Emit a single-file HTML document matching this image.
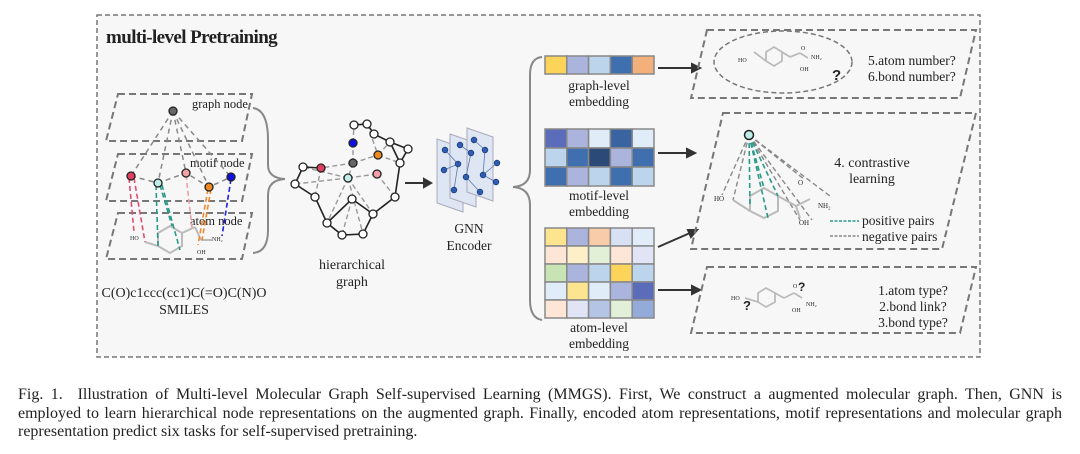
<!DOCTYPE html>
<html><head><meta charset="utf-8">
<style>
html,body{margin:0;padding:0;background:#fff;}
body{position:relative;width:1080px;height:454px;overflow:hidden;}
svg{display:block;position:absolute;left:0;top:0;}
text{font-family:"Liberation Serif",serif;fill:#222;}
.cap{position:absolute;left:18px;top:386px;width:1044px;font-family:"Liberation Serif",serif;font-size:16px;line-height:18.5px;color:#222;}
.cap div{text-align:justify;text-align-last:justify;white-space:nowrap;}
.cap div.l{text-align-last:left;}
</style></head><body>
<svg width="1080" height="454" viewBox="0 0 1080 454" xmlns="http://www.w3.org/2000/svg">
<rect x="97" y="15" width="883" height="342" fill="#f7f7f7" stroke="#777" stroke-width="1.5" stroke-dasharray="5,3"/>
<text x="106" y="43" font-size="19" font-weight="bold" letter-spacing="-0.6">multi-level Pretraining</text>

<g fill="none" stroke="#777" stroke-width="2" stroke-dasharray="7,4">
<polygon points="118,94 252,94 242,141 106,141"/>
<polygon points="118,154 252,154 242,201 106,201"/>
<polygon points="118,213 252,213 242,259 106,259"/>
</g>
<text x="192" y="108" font-size="12.5">graph node</text>
<text x="190" y="167" font-size="12.5">motif node</text>
<text x="190" y="225" font-size="12.5">atom node</text>
<g stroke="#888" stroke-width="1.5" stroke-dasharray="5,4" fill="none">
<line x1="173" y1="111" x2="131" y2="176"/><line x1="173" y1="111" x2="158" y2="183"/>
<line x1="173" y1="111" x2="186" y2="173"/><line x1="173" y1="111" x2="209" y2="187"/>
<line x1="173" y1="111" x2="231" y2="177"/>
<polyline points="131,176 158,183 186,173 209,187 231,177"/>
</g>
<g stroke="#bbb" stroke-width="2" fill="none">
<polygon points="158,233 170,226 182,233 182,246 170,253 158,246"/>
<line x1="145" y1="242" x2="158" y2="246"/><line x1="182" y1="233" x2="195" y2="227"/>
<line x1="195" y1="227" x2="201" y2="240"/><line x1="201" y1="240" x2="212" y2="240"/>
</g>
<text x="130" y="240" font-size="6" fill="#e07070">HO</text>
<text x="197" y="254" font-size="6" fill="#e07070">OH</text>
<text x="212" y="241" font-size="6" fill="#5050e0">NH₂</text>
<g stroke-width="1.6" stroke-dasharray="5,3" fill="none">
<g stroke="#e05070"><line x1="129" y1="178" x2="134" y2="232"/><line x1="134" y1="178" x2="145" y2="242"/></g>
<g stroke="#2a9a88"><line x1="156" y1="185" x2="158" y2="246"/><line x1="160" y1="185" x2="172" y2="226"/><line x1="162" y1="185" x2="180" y2="250"/></g>
<g stroke="#f0a0a8"><line x1="186" y1="175" x2="192" y2="228"/></g>
<g stroke="#f08a30"><line x1="208" y1="189" x2="198" y2="245"/><line x1="211" y1="189" x2="202" y2="240"/></g>
<g stroke="#2020e0"><line x1="231" y1="179" x2="222" y2="236"/></g>
</g>
<g stroke="#222" stroke-width="1.3">
<circle cx="173" cy="111" r="4" fill="#666"/>
<circle cx="131" cy="176" r="4" fill="#e04060"/>
<circle cx="158" cy="183" r="4" fill="#bfeeea"/>
<circle cx="186" cy="173" r="4" fill="#f4a0a8"/>
<circle cx="209" cy="187" r="4" fill="#f08a20"/>
<circle cx="231" cy="177" r="4" fill="#1010e0"/>
</g>
<path d="M253,108 Q268,110 268,140 L268,165 Q268,178 285,179 Q268,180 268,195 L268,230 Q268,252 253,253" fill="none" stroke="#888" stroke-width="2"/>
<text x="184" y="297" font-size="14" text-anchor="middle">C(O)c1ccc(cc1)C(=O)C(N)O</text>
<text x="184" y="314" font-size="14" text-anchor="middle">SMILES</text>

<g stroke="#999" stroke-width="1.4" stroke-dasharray="5,3" fill="none">
<line x1="353" y1="163" x2="321" y2="168"/><line x1="353" y1="163" x2="378" y2="155"/>
<line x1="353" y1="163" x2="353" y2="143"/><line x1="353" y1="163" x2="348" y2="178"/>
<line x1="353" y1="143" x2="354" y2="125"/><line x1="378" y1="155" x2="390" y2="142"/>
<line x1="378" y1="155" x2="400" y2="163"/><line x1="348" y1="178" x2="377" y2="174"/>
<line x1="348" y1="178" x2="303" y2="167"/><line x1="348" y1="178" x2="295" y2="184"/>
<line x1="348" y1="178" x2="327" y2="223"/><line x1="348" y1="178" x2="363" y2="234"/>
<line x1="348" y1="178" x2="373" y2="214"/><line x1="377" y1="174" x2="395" y2="197"/>
<line x1="321" y1="168" x2="315" y2="197"/><line x1="352" y1="199" x2="342" y2="235"/>
<line x1="367" y1="124" x2="378" y2="155"/>
</g>
<g stroke="#222" stroke-width="1.6" fill="none">
<polyline points="354,125 367,124 374,134 390,142 400,163 395,197 373,214 363,234 342,235 327,223 315,197 295,184 303,167 321,168"/>
<polyline points="390,142 408,149 400,163"/>
<polyline points="327,223 352,199 373,214"/>
</g>
<g stroke="#222" stroke-width="1.3" fill="#fff">
<circle cx="354" cy="125" r="4"/><circle cx="367" cy="124" r="4"/><circle cx="374" cy="134" r="4"/>
<circle cx="390" cy="142" r="4"/><circle cx="408" cy="149" r="4"/><circle cx="400" cy="163" r="4"/>
<circle cx="303" cy="167" r="4"/><circle cx="295" cy="184" r="4"/><circle cx="315" cy="197" r="4"/>
<circle cx="395" cy="197" r="4"/><circle cx="373" cy="214" r="4"/><circle cx="363" cy="234" r="4"/>
<circle cx="342" cy="235" r="4"/><circle cx="327" cy="223" r="4"/><circle cx="352" cy="199" r="4"/>
<circle cx="353" cy="143" r="4" fill="#1010e0"/><circle cx="378" cy="155" r="4" fill="#f08a20"/>
<circle cx="353" cy="163" r="4" fill="#666"/><circle cx="321" cy="168" r="4" fill="#e04060"/>
<circle cx="348" cy="178" r="4" fill="#bfeeea"/><circle cx="377" cy="174" r="4" fill="#f4a0a8"/>
</g>
<text x="352" y="269" font-size="14" text-anchor="middle">hierarchical</text>
<text x="352" y="286" font-size="14" text-anchor="middle">graph</text>

<g stroke="#333" stroke-width="2" fill="#333">
<line x1="405" y1="183" x2="425" y2="183"/><polygon points="431,183 424,179 424,187"/>
<line x1="658" y1="68" x2="693" y2="68"/><polygon points="700,68 692,64 692,72"/>
<line x1="658" y1="153" x2="688" y2="153"/><polygon points="695,153 687,149 687,157"/>
<line x1="658" y1="247" x2="690" y2="233"/><polygon points="697,230 688,230 691,237"/>
<line x1="658" y1="290" x2="693" y2="290"/><polygon points="700,290 692,286 692,294"/>
</g>

<g stroke="#aab" stroke-width="1">
<polygon points="437,139 463,148 463,212 437,203" fill="#dde6f2"/>
<polygon points="450,134 476,143 476,207 450,198" fill="#dde6f2"/>
<polygon points="467,128 493,137 493,201 467,192" fill="#dde6f2"/>
</g>
<g stroke="#5a78b0" stroke-width="0.8" fill="none">
<polyline points="445,150 458,164 444,170"/><polyline points="458,164 454,190"/>
<polyline points="460,145 471,153 466,177 480,192"/><polyline points="474,140 485,150 483,175 496,182"/><polyline points="483,175 497,163"/>
</g>
<g fill="#2f5fae" stroke="#1a3a80" stroke-width="0.8">
<circle cx="445" cy="150" r="2.8"/><circle cx="444" cy="170" r="2.8"/><circle cx="454" cy="190" r="2.8"/><circle cx="458" cy="164" r="2.8"/>
<circle cx="460" cy="145" r="2.8"/><circle cx="471" cy="153" r="2.8"/><circle cx="466" cy="177" r="2.8"/><circle cx="480" cy="192" r="2.8"/>
<circle cx="474" cy="140" r="2.8"/><circle cx="485" cy="150" r="2.8"/><circle cx="483" cy="175" r="2.8"/><circle cx="496" cy="182" r="2.8"/><circle cx="497" cy="163" r="2.8"/>
</g>
<text x="469" y="233" font-size="13.5" text-anchor="middle">GNN</text>
<text x="469" y="250" font-size="13.5" text-anchor="middle">Encoder</text>

<path d="M542,57 Q530,58 530,75 L530,170 Q530,186 513,187 Q530,188 530,205 L530,300 Q530,318 542,320" fill="none" stroke="#888" stroke-width="2"/>

<g stroke="#888" stroke-width="1.5">
<rect x="545" y="56" width="21.8" height="18" fill="#fcd45a"/><rect x="566.8" y="56" width="21.8" height="18" fill="#aab4dc"/><rect x="588.6" y="56" width="21.8" height="18" fill="#bcd4ec"/><rect x="610.4" y="56" width="21.8" height="18" fill="#3f6fae"/><rect x="632.2" y="56" width="21.8" height="18" fill="#f4b07a"/>
</g>
<text x="599" y="90" font-size="13.5" text-anchor="middle">graph-level</text>
<text x="599" y="106" font-size="13.5" text-anchor="middle">embedding</text>
<g stroke="#888" stroke-width="1.5">
<rect x="545" y="129" width="21.8" height="19" fill="#5a6cba"/><rect x="566.8" y="129" width="21.8" height="19" fill="#aab4dc"/><rect x="588.6" y="129" width="21.8" height="19" fill="#e0ecf8"/><rect x="610.4" y="129" width="21.8" height="19" fill="#3a64a0"/><rect x="632.2" y="129" width="21.8" height="19" fill="#e0ecf8"/>
<rect x="545" y="148" width="21.8" height="19" fill="#bcd4ec"/><rect x="566.8" y="148" width="21.8" height="19" fill="#3f6fae"/><rect x="588.6" y="148" width="21.8" height="19" fill="#2c4a78"/><rect x="610.4" y="148" width="21.8" height="19" fill="#aab4dc"/><rect x="632.2" y="148" width="21.8" height="19" fill="#3f6fae"/>
<rect x="545" y="167" width="21.8" height="19" fill="#3f6fae"/><rect x="566.8" y="167" width="21.8" height="19" fill="#aab4dc"/><rect x="588.6" y="167" width="21.8" height="19" fill="#bcd4ec"/><rect x="610.4" y="167" width="21.8" height="19" fill="#3f6fae"/><rect x="632.2" y="167" width="21.8" height="19" fill="#bcd4ec"/>
</g>
<text x="599" y="200" font-size="13.5" text-anchor="middle">motif-level</text>
<text x="599" y="216" font-size="13.5" text-anchor="middle">embedding</text>
<g stroke="#888" stroke-width="1.5">
<rect x="545" y="228" width="21.8" height="18" fill="#fde48e"/><rect x="566.8" y="228" width="21.8" height="18" fill="#aab4dc"/><rect x="588.6" y="228" width="21.8" height="18" fill="#f8cca8"/><rect x="610.4" y="228" width="21.8" height="18" fill="#d8e0f4"/><rect x="632.2" y="228" width="21.8" height="18" fill="#e0ecf8"/>
<rect x="545" y="246" width="21.8" height="18" fill="#fde6d6"/><rect x="566.8" y="246" width="21.8" height="18" fill="#fdf0c8"/><rect x="588.6" y="246" width="21.8" height="18" fill="#e2f0d8"/><rect x="610.4" y="246" width="21.8" height="18" fill="#fde6d6"/><rect x="632.2" y="246" width="21.8" height="18" fill="#e0e4f4"/>
<rect x="545" y="264" width="21.8" height="18" fill="#c8e4b4"/><rect x="566.8" y="264" width="21.8" height="18" fill="#aab4dc"/><rect x="588.6" y="264" width="21.8" height="18" fill="#bcd4ec"/><rect x="610.4" y="264" width="21.8" height="18" fill="#fcd45a"/><rect x="632.2" y="264" width="21.8" height="18" fill="#bcd4ec"/>
<rect x="545" y="282" width="21.8" height="18" fill="#e0ecf8"/><rect x="566.8" y="282" width="21.8" height="18" fill="#fde48e"/><rect x="588.6" y="282" width="21.8" height="18" fill="#e0ecf8"/><rect x="610.4" y="282" width="21.8" height="18" fill="#aab4dc"/><rect x="632.2" y="282" width="21.8" height="18" fill="#5a6cba"/>
<rect x="545" y="300" width="21.8" height="18" fill="#fde6d6"/><rect x="566.8" y="300" width="21.8" height="18" fill="#e0e4f4"/><rect x="588.6" y="300" width="21.8" height="18" fill="#b4c4e4"/><rect x="610.4" y="300" width="21.8" height="18" fill="#e2f0d8"/><rect x="632.2" y="300" width="21.8" height="18" fill="#94aad8"/>
</g>
<text x="599" y="332" font-size="13.5" text-anchor="middle">atom-level</text>
<text x="599" y="348" font-size="13.5" text-anchor="middle">embedding</text>

<g fill="none" stroke="#777" stroke-width="2" stroke-dasharray="7,4">
<polygon points="707,30 976,30 960,98 691,98"/>
<polygon points="723,113 976,113 942,249 691,249"/>
<polygon points="707,267 976,267 960,333 691,333"/>
</g>
<ellipse cx="783" cy="62" rx="69" ry="31" fill="none" stroke="#777" stroke-width="1.5" stroke-dasharray="5,3"/>
<g stroke="#bbb" stroke-width="1.8" fill="none">
<polygon points="766,52 774,47 782,52 782,61 774,66 766,61"/>
<line x1="754" y1="52" x2="766" y2="61"/><line x1="782" y1="52" x2="790" y2="57"/>
<line x1="790" y1="57" x2="800" y2="53"/><line x1="800" y1="53" x2="808" y2="58"/>
</g>
<text x="738" y="62" font-size="6" fill="#e07070">HO</text>
<text x="801" y="50" font-size="6" fill="#e07070">O</text>
<text x="800" y="71" font-size="6" fill="#e07070">OH</text>
<text x="811" y="59" font-size="6" fill="#5050e0">NH₂</text>
<text x="832" y="80" font-size="15" font-weight="bold" fill="#f08a20" style="font-family:'Liberation Sans',sans-serif">?</text>
<text x="868" y="65" font-size="13.5">5.atom number?</text>
<text x="868" y="81" font-size="13.5">6.bond number?</text>

<g stroke="#888" stroke-width="1.4" stroke-dasharray="5,3" fill="none">
<line x1="749" y1="135" x2="722" y2="195"/><line x1="749" y1="135" x2="733" y2="200"/>
<line x1="749" y1="135" x2="800" y2="220"/><line x1="749" y1="135" x2="812" y2="220"/>
<line x1="749" y1="135" x2="830" y2="196"/><line x1="749" y1="135" x2="805" y2="180"/>
</g>
<g stroke="#bbb" stroke-width="2" fill="none">
<polygon points="750,196 764,188 778,196 778,211 764,218 750,211"/>
<line x1="733" y1="200" x2="750" y2="211"/><line x1="778" y1="196" x2="796" y2="206"/>
<line x1="796" y1="206" x2="810" y2="199"/><line x1="796" y1="206" x2="800" y2="218"/>
</g>
<g stroke="#2a9a88" stroke-width="1.6" stroke-dasharray="5,3" fill="none">
<line x1="749" y1="135" x2="750" y2="205"/><line x1="749" y1="135" x2="764" y2="188"/>
<line x1="749" y1="135" x2="768" y2="218"/><line x1="749" y1="135" x2="778" y2="196"/>
</g>
<circle cx="749" cy="135" r="4.5" fill="#bfeeea" stroke="#222" stroke-width="1.5"/>
<text x="714" y="201" font-size="7" fill="#e07070">HO</text>
<text x="798" y="185" font-size="7" fill="#e07070">O</text>
<text x="799" y="225" font-size="7" fill="#e07070">OH</text>
<text x="818" y="208" font-size="7" fill="#5050e0">NH₂</text>
<text x="872" y="167" font-size="14" text-anchor="middle">4. contrastive</text>
<text x="872" y="183" font-size="14" text-anchor="middle">learning</text>
<line x1="830" y1="221" x2="859" y2="221" stroke="#2a9a88" stroke-width="1.5" stroke-dasharray="3,1.5"/>
<line x1="830" y1="236" x2="859" y2="236" stroke="#888" stroke-width="1.5" stroke-dasharray="3,1.5"/>
<text x="862" y="225" font-size="13.5">positive pairs</text>
<text x="862" y="241" font-size="13.5">negative pairs</text>

<g stroke="#bbb" stroke-width="1.8" fill="none">
<polygon points="758,293 766,288 775,293 775,302 766,307 758,302"/>
<line x1="745" y1="298" x2="758" y2="302"/><line x1="775" y1="293" x2="784" y2="298"/>
<line x1="784" y1="298" x2="794" y2="293"/><line x1="794" y1="293" x2="802" y2="298"/>
</g>
<text x="731" y="300" font-size="6" fill="#e07070">HO</text>
<text x="793" y="288" font-size="6" fill="#e07070">O</text>
<text x="792" y="312" font-size="6" fill="#e07070">OH</text>
<text x="806" y="306" font-size="6" fill="#5050e0">NH₂</text>
<text x="743" y="310" font-size="13" font-weight="bold" fill="#f08a20" style="font-family:'Liberation Sans',sans-serif">?</text>
<text x="798" y="291" font-size="12" font-weight="bold" fill="#f08a20" style="font-family:'Liberation Sans',sans-serif">?</text>
<text x="913" y="295" font-size="13.5" text-anchor="middle">1.atom type?</text>
<text x="913" y="311" font-size="13.5" text-anchor="middle">2.bond link?</text>
<text x="913" y="327" font-size="13.5" text-anchor="middle">3.bond type?</text>
</svg>
<div class="cap">
<div>Fig. 1.&nbsp; Illustration of Multi-level Molecular Graph Self-supervised Learning (MMGS). First, We construct a augmented molecular graph. Then, GNN is</div>
<div>employed to learn hierarchical node representations on the augmented graph. Finally, encoded atom representations, motif representations and molecular graph</div>
<div class="l">representation predict six tasks for self-supervised pretraining.</div>
</div>
</body></html>
